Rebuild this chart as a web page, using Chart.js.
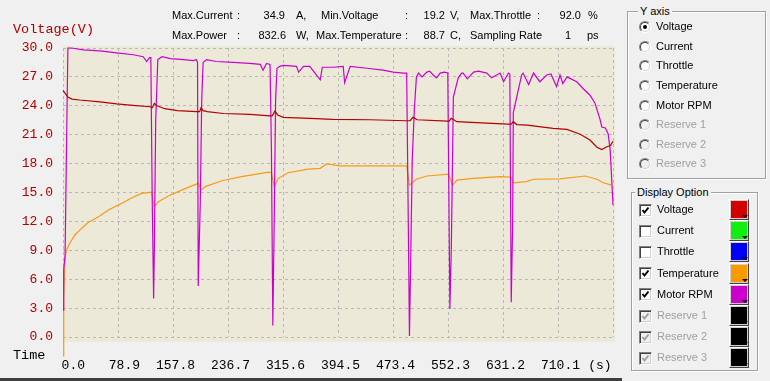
<!DOCTYPE html>
<html><head><meta charset="utf-8">
<script src="https://cdn.jsdelivr.net/npm/chart.js@4.4.0/dist/chart.umd.min.js"></script>
<style>
html,body{margin:0;padding:0;width:770px;height:381px;overflow:hidden;background:#f0f0f0;font-family:"Liberation Sans",Arial,sans-serif;font-size:11px;color:#000;}
#wrap{position:relative;width:770px;height:381px;}
#cv{position:absolute;left:0;top:0;}
.t{position:absolute;white-space:nowrap;line-height:13px;}
.mono{font-family:"Liberation Mono",monospace;font-size:13.5px;line-height:16px;}
.grp{position:absolute;box-sizing:border-box;border:1px solid #a0a0a0;box-shadow:1px 1px 0 #fff, inset 1px 1px 0 #fff;}
.leg{position:absolute;background:#f0f0f0;padding:0 2px;line-height:13px;white-space:nowrap;}
.radio{position:absolute;width:12px;height:12px;border-radius:50%;box-sizing:border-box;border:1px solid;border-color:#808080 #fff #fff #808080;background:#fff;}
.radio::before{content:'';position:absolute;left:0;top:0;right:0;bottom:0;border-radius:50%;border:1px solid;border-color:#404040 #d4d0c8 #d4d0c8 #404040;}
.radio.dis{background:#f0f0f0;}
.radio.on::after{content:'';position:absolute;left:3px;top:3px;width:4px;height:4px;border-radius:50%;background:#000;}
.cb{position:absolute;width:13px;height:13px;box-sizing:border-box;border:1px solid;border-color:#808080 #fff #fff #808080;background:#fff;box-shadow:inset 1px 1px 0 #404040, inset -1px -1px 0 #d4d0c8;}
.cb.dis{background:#f0f0f0;}
.cb svg{position:absolute;left:1px;top:1px;}
.dis-t{color:#a0a0a0;}
.sw{position:absolute;width:20px;height:21px;box-sizing:border-box;border:1px solid;border-color:#fff #404040 #404040 #fff;background:#d4d0c8;}
.sw .f{position:absolute;left:1px;top:1px;width:16px;height:17px;}
.sw .tri{position:absolute;right:0px;bottom:1px;width:0;height:0;border-left:3px solid transparent;border-right:3px solid transparent;border-top:3px solid #000;}
#bline{position:absolute;left:0;top:378px;width:622px;height:3px;background:#404040;}
</style></head><body>
<div id="wrap">
<canvas id="cv" width="770" height="381"></canvas>
<div class="t mono" style="left:13px;top:22px;color:#b00000;">Voltage(V)</div>
<div class="t mono" style="left:13px;top:348px;color:#000;">Time</div>
<div id="bline"></div>
</div>
<script>
// ---- data ----
const voltTime = [0,7,13,24,53,77,100,125,128,131,135,146,164,192,196,198,201,207,230,268,297,300,304,308,316,354,387,440,493,498,502,508,551,554,557,565,608,638,643,646,651,666,703,723,742,756,766,773,780,785,789];
const voltValues = [25.6,24.9,24.7,24.6,24.4,24.2,24.05,23.9,23.8,24.25,24.0,23.7,23.5,23.4,23.4,23.8,23.5,23.4,23.2,23.1,22.95,22.95,23.45,23.05,22.8,22.7,22.6,22.55,22.45,22.45,22.8,22.55,22.4,22.4,22.7,22.35,22.2,22.1,22.1,22.35,22.05,22.0,21.65,21.55,21.05,20.45,19.7,19.45,19.75,19.85,20.3];

const tempTime = [0,1,3,5,10,17,27,36,51,65,84,99,113,127,131,137,151,170,194,198,204,228,256,295,299,303,309,323,352,369,378,397,440,493,497,507,522,553,559,565,589,627,642,646,665,675,713,749,766,775,787];
const tempValues = [23.6,42.5,57.1,59.5,61.9,64.6,66.9,68.8,70.8,73.1,75.3,77.2,78.7,79.1,74.2,75.9,77.8,79.8,82.1,79.8,81.0,83.0,84.4,85.9,85.7,81.0,83.8,85.7,86.9,87.2,88.7,88.0,88.0,88.0,81.5,83.5,84.6,85.2,81.5,83.2,83.8,84.4,84.2,82.3,82.7,83.5,83.6,84.6,83.5,82.3,81.5];

const rpmTime = [0,1,3,5,7,12,29,53,77,101,115,120,124,126,128,130,131,133,136,142,154,173,187,191,193,194,197,199,201,206,220,244,268,283,287,292,297,299,301,303,305,307,311,316,335,338,345,354,369,372,388,402,404,412,436,459,474,488,493,495,497,499,501,504,507,510,515,522,526,531,536,541,547,552,555,557,560,567,572,574,580,589,596,608,615,627,632,639,641,643,645,646,653,658,660,668,675,684,694,700,708,713,717,723,737,746,756,763,770,773,778,782,785,789];
const rpmValues = [2800,7000,8500,19400,30000,30000,29800,29700,29500,29300,29100,28600,29000,29000,14200,4000,9000,22500,28800,29100,28900,28800,28700,28800,28500,5300,14200,24600,28500,28800,28600,28500,28400,28300,27700,28400,28300,19400,1200,12100,24600,27900,28100,28200,28100,27500,28100,28100,26700,28000,28000,28100,26400,28100,27900,27700,27500,27400,27400,14200,100,9000,18400,23600,27000,27400,27000,27500,27600,27200,26900,27400,27500,27400,2900,9000,24900,26900,27400,27400,26800,27500,27600,27400,26900,27400,26500,27400,27300,3600,11500,23300,25600,27200,27400,26200,27400,26500,27200,27300,26000,27200,26300,27000,26500,25800,25100,24300,22700,21800,21700,21100,19400,13700];

const xTickValues = [0,78.9,157.8,236.7,315.6,394.5,473.4,552.3,631.2,710.1,789];
const xTickLabels = ['0.0','78.9','157.8','236.7','315.6','394.5','473.4','552.3','631.2','710.1','(s)   '];
const yTickValues = [0,3,6,9,12,15,18,21,24,27,30];
const yTickLabels = ['0.0','3.0','6.0','9.0','12.0','15.0','18.0','21.0','24.0','27.0','30.0'];

const statNames = ['Max.Current','Min.Voltage','Max.Throttle','Max.Power','Max.Temperature','Sampling Rate'];
const statValues = ['34.9','19.2','92.0','832.6','88.7','1'];
const statUnits = ['A,','V,','%','W,','C,','ps'];

const axisOptions = ['Voltage','Current','Throttle','Temperature','Motor RPM','Reserve 1','Reserve 2','Reserve 3'];
const axisSelected = 0;
const displayChecked = [true,false,false,true,true,true,true,true];
const optionEnabled = [true,true,true,true,true,false,false,false];
const swatchColors = ['#d40000','#10f010','#0000f4','#f89a00','#cc00cc','#000000','#000000','#000000'];

// ---- layout of header / panel (positions only) ----
const statPos = [[172,237,285,296,9],[321,405,445,450,9],[470,537,581,588,9],[172,237,286,296,29],[316,405,445,450,29],[470,537,571,587,29]];
const wrap = document.getElementById('wrap');
function addText(txt, x, y, cls, extra){
  const d = document.createElement('div');
  d.className = 't' + (cls ? ' ' + cls : '');
  d.textContent = txt;
  d.style.left = x + 'px'; d.style.top = y + 'px';
  if (extra) Object.assign(d.style, extra);
  wrap.appendChild(d); return d;
}
statNames.forEach((n,i)=>{
  const p = statPos[i];
  addText(n, p[0], p[4]);
  addText(':', p[1], p[4]);
  const v = addText(statValues[i], 0, p[4]);
  v.style.left = 'auto'; v.style.right = (770 - p[2]) + 'px';
  addText(statUnits[i], p[3], p[4]);
});

// group boxes
function addGroup(x,y,w,h,label,lx){
  const g = document.createElement('div'); g.className='grp';
  Object.assign(g.style,{left:x+'px',top:y+'px',width:w+'px',height:h+'px'});
  wrap.appendChild(g);
  const l = document.createElement('div'); l.className='leg'; l.textContent=label;
  Object.assign(l.style,{left:lx+'px',top:(y-6)+'px'});
  wrap.appendChild(l);
}
addGroup(627,11,139,168,'Y axis',638);
addGroup(631,192,127,179,'Display Option',635);

axisOptions.forEach((name,i)=>{
  const cy = 27.3 + 19.57*i;
  const r = document.createElement('div');
  r.className = 'radio' + (i===axisSelected?' on':'') + (optionEnabled[i]?'':' dis');
  r.style.left = '639px'; r.style.top = Math.round(cy-6)+'px';
  wrap.appendChild(r);
  addText(name, 656, Math.round(cy-7), optionEnabled[i]?'':'dis-t');
});
axisOptions.forEach((name,i)=>{
  const cy = 210 + 21.2*i;
  const c = document.createElement('div');
  c.className = 'cb' + (optionEnabled[i]?'':' dis');
  c.style.left='639px'; c.style.top=Math.round(cy-6.5)+'px';
  if (displayChecked[i]) {
    const col = optionEnabled[i] ? '#000' : '#a0a0a0';
    c.innerHTML = '<svg width="9" height="9" viewBox="0 0 9 9"><polyline points="1.5,4 3.5,6.5 7.5,1.5" fill="none" stroke="'+col+'" stroke-width="2"/></svg>';
  }
  wrap.appendChild(c);
  addText(name, 657, Math.round(cy-7), optionEnabled[i]?'':'dis-t');
  const s = document.createElement('div'); s.className='sw';
  s.style.left='729px'; s.style.top=Math.round(cy-11)+'px';
  s.innerHTML = '<div class="f" style="background:'+swatchColors[i]+'"></div><div class="tri"></div>';
  wrap.appendChild(s);
});

// ---- chart ----
const toPts = (t,v)=>t.map((x,i)=>({x:x,y:v[i]}));
const bgPlugin = {id:'bg', beforeDraw(chart){
  const {ctx, chartArea:a} = chart;
  ctx.save(); ctx.fillStyle='#ece9d8';
  ctx.fillRect(a.left, a.top-2, a.right-a.left+2, a.bottom-a.top+7);
  ctx.restore();
}};
new Chart(document.getElementById('cv'), {
  type:'line',
  data:{datasets:[
    {label:'Voltage', data:toPts(voltTime,voltValues), yAxisID:'y', borderColor:'#b40000', borderWidth:1.2, pointRadius:0, tension:0, order:0, clip:false},
    {label:'Motor RPM', data:toPts(rpmTime,rpmValues), yAxisID:'yR', borderColor:'#cc00cc', borderWidth:1.2, pointRadius:0, tension:0, order:1, clip:false},
    {label:'Temperature', data:toPts(tempTime,tempValues), yAxisID:'yT', borderColor:'#f79a1c', borderWidth:1.2, pointRadius:0, tension:0, order:2, clip:false}
  ]},
  options:{
    responsive:false, animation:false, devicePixelRatio:1, events:[],
    layout:{padding:{left:0,top:48,right:157,bottom:0}},
    plugins:{legend:{display:false}, tooltip:{enabled:false}},
    scales:{
      x:{type:'linear', min:0, max:789,
        afterBuildTicks:s=>{ s.ticks = xTickValues.map(v=>({value:v})); },
        afterFit:s=>{ s.height = 44; },
        grid:{color:'#b8b8b8', lineWidth:1, drawTicks:false},
        border:{display:false, dash:[3,3]},
        ticks:{autoSkip:false, maxRotation:0, minRotation:0, align:'end', labelOffset:22, padding:21, color:'#000',
          font:{family:'Liberation Mono', size:13}, callback:(v,i)=>xTickLabels[i]}
      },
      y:{type:'linear', position:'left', min:0, max:30,
        afterBuildTicks:s=>{ s.ticks = yTickValues.map(v=>({value:v})); },
        afterFit:s=>{ s.width = 63; },
        grid:{color:'#b8b8b8', lineWidth:1, drawTicks:false},
        border:{display:false, dash:[3,3]},
        ticks:{padding:10, color:'#b00000', font:{family:'Liberation Mono', size:13}, callback:(v,i)=>yTickLabels[i]}
      },
      yT:{type:'linear', display:false, min:30, max:128},
      yR:{type:'linear', display:false, min:0, max:30000}
    }
  },
  plugins:[bgPlugin]
});
</script>
</body></html>
